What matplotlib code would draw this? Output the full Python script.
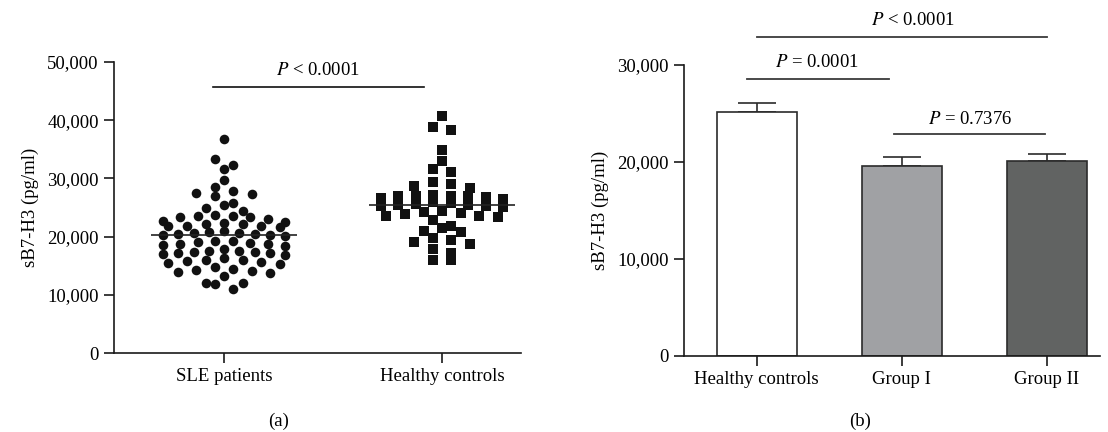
import matplotlib
matplotlib.use('Agg')
import matplotlib.pyplot as plt
import numpy as np
from matplotlib.ticker import StrMethodFormatter

# 字体: 衬线体, P 用斜体
plt.rcParams['font.family'] = ['Liberation Serif', 'DejaVu Serif']
plt.rcParams['mathtext.fontset'] = 'stix'
plt.rcParams['font.size'] = 13.5

# ---- 数据 (pg/ml) ----
scatter_groups = ['SLE patients', 'Healthy controls']
sle_values = [36800, 33400, 32300, 31600, 29800, 28500, 27800, 27500, 27400, 26900,
              25800, 25400, 24900,
              24400, 23700, 23600, 23500, 23400, 23300, 23000,
              22600, 22500, 22300, 22200, 22100, 21900, 21900, 21800, 21600,
              20900, 20800, 20700, 20600, 20400, 20400, 20300, 20200, 20100,
              19300, 19200, 19000, 18900, 18800, 18700, 18600, 18400,
              17800, 17600, 17500, 17400, 17300, 17200, 17100, 17000, 16900,
              16300, 16000, 15900, 15800, 15600, 15500, 15300,
              14700, 14400, 14300, 14100, 14000, 13800,
              13200, 12100, 12000, 11900, 11000]
hc_values = [40700, 38900, 38300, 34900, 33000, 31600, 31100, 29300, 29000, 28700, 28400,
             27200, 27000, 27000, 26900, 26900, 26800, 26700, 26400,
             25900, 25700, 25600, 25500, 25400, 25300, 25200, 25100,
             24400, 24200, 24000, 23800, 23600, 23500, 23300, 22900,
             21800, 21500, 21000, 20800,
             19800, 19500, 19100, 18700,
             17900, 17200, 16000, 16000]

bar_groups = ['Healthy controls', 'Group I', 'Group II']
bar_means = [25200, 19600, 20100]
bar_sem = [850, 950, 750]
bar_colors = ['white', '#a0a1a4', '#616362']

p_left = r'$P$ < 0.0001'
p_right = [r'$P$ = 0.0001', r'$P$ = 0.7376', r'$P$ < 0.0001']


def row_offsets(values, row_h=1200, max_step=0.085, max_width=0.56):
    """按数值分行, 同一行的点左右展开 (类似 Prism 的散点排布)"""
    values = np.asarray(values, dtype=float)
    order = np.argsort(-values, kind='stable')
    rows, row = [], []
    for i in order:
        if row and values[row[0]] - values[i] > row_h:
            rows.append(row)
            row = []
        row.append(i)
    rows.append(row)
    offsets = np.zeros(len(values))
    for row in rows:
        n = len(row)
        step = min(max_step, max_width / max(n - 1, 1))
        pos = (np.arange(n) - (n - 1) / 2) * step
        pos = pos[np.argsort(np.abs(pos) + pos * 1e-6, kind='stable')]  # 从中间向两边
        offsets[row] = pos
    return offsets


W, H = 1108, 432
fig = plt.figure(figsize=(W / 100, H / 100), dpi=100)
ax1 = fig.add_axes([114 / W, 1 - 353 / H, 407 / W, 291 / H])
ax2 = fig.add_axes([684 / W, 1 - 356 / H, 416 / W, 291 / H])


def style_axis(ax):
    for side in ['top', 'right']:
        ax.spines[side].set_visible(False)
    for side in ['left', 'bottom']:
        ax.spines[side].set_linewidth(1.2)
        ax.spines[side].set_color('#1a1a1a')
    ax.tick_params(length=7, width=1.2, color='#1a1a1a', direction='out', pad=4)
    ax.yaxis.set_major_formatter(StrMethodFormatter('{x:,.0f}'))


# ---- (a) 散点图 ----
markers = ['o', 's']
sizes = [48, 42]
for i, vals in enumerate([sle_values, hc_values]):
    ax1.scatter(i + row_offsets(vals), vals, marker=markers[i], s=sizes[i],
                color='#111111', linewidths=0, zorder=3)
    ax1.hlines(np.median(vals), i - 0.335, i + 0.335, color='#222222', lw=1.2, zorder=5)

ax1.set_xticks(range(len(scatter_groups)), scatter_groups)
ax1.set_xlim(-0.505, 1.362)
ax1.set_ylim(0, 50000)
ax1.set_yticks(np.arange(0, 50001, 10000))
ax1.set_ylabel('sB7-H3 (pg/ml)', labelpad=6)
style_axis(ax1)

ax1.plot([-0.05, 0.917], [45700, 45700], color='#111111', lw=1.2, clip_on=False)
ax1.text(0.43, 48500, p_left, ha='center', va='center')

# ---- (b) 柱状图 ----
x = np.arange(len(bar_groups))
ax2.bar(x, bar_means, width=0.55, color=bar_colors, edgecolor='#2b2b2b',
        linewidth=1.2, zorder=2)
ax2.errorbar(x, bar_means, yerr=[np.zeros(len(x)), bar_sem], fmt='none',
             ecolor='#2b2b2b', elinewidth=1.2, capsize=14, capthick=1.2, zorder=1)
ax2.set_xticks(x, bar_groups)
ax2.set_xlim(-0.50, 2.365)
ax2.set_ylim(0, 30000)
ax2.set_yticks(np.arange(0, 30001, 10000))
ax2.set_ylabel('sB7-H3 (pg/ml)', labelpad=6)
style_axis(ax2)

# 显著性标注
brackets = [(-0.067, 0.909, 28600, 0.413, 30300),
            (0.945, 1.988, 22850, 1.47, 24400),
            (0.0, 2.0, 32900, 1.08, 34600)]
for (x0, x1, yl, xt, yt), label in zip(brackets, p_right):
    ax2.plot([x0, x1], [yl, yl], color='#3a3a3a', lw=1.3, clip_on=False)
    ax2.text(xt, yt, label, ha='center', va='center')

# 子图编号
fig.text(279 / W, 1 - 421 / H, '(a)', ha='center', va='center')
fig.text(860 / W, 1 - 421 / H, '(b)', ha='center', va='center')

fig.savefig('out.png', dpi=100)
